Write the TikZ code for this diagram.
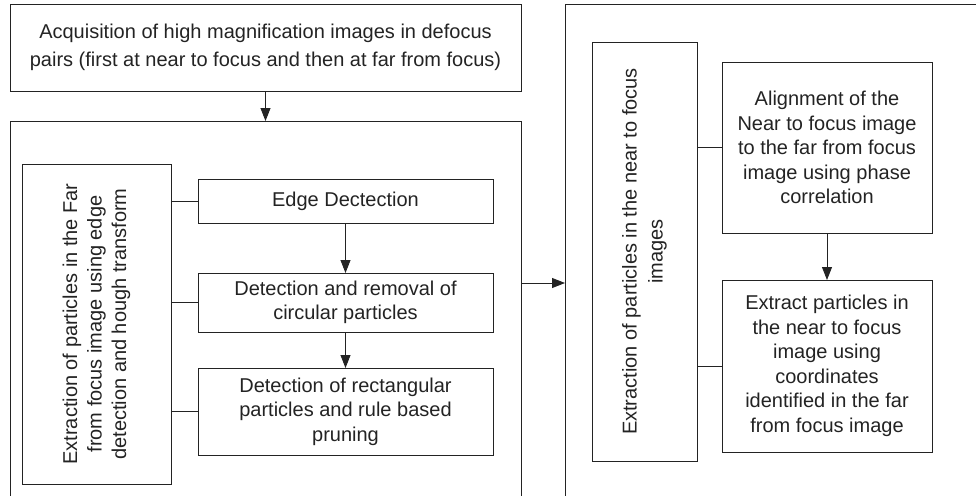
\documentclass[tikz,border=0pt]{standalone}
\usepackage{fontspec}
\setmainfont{Liberation Sans}
\usepackage{tikz}
\usetikzlibrary{arrows.meta}
\definecolor{inkgray}{RGB}{35,35,35}

\begin{document}
\begin{tikzpicture}[x=1pt, y=-1pt,
          stepbox/.style={draw=inkgray, line width=0.9pt, align=center,
                          inner sep=0pt, outer sep=0pt, text=inkgray,
                          font=\fontsize{20}{24.5}\selectfont},
          frame/.style={draw=inkgray, line width=0.9pt, inner sep=0pt, outer sep=0pt},
          link/.style={draw=inkgray, line width=0.9pt},
          arr/.style={link, -{Triangle[length=13pt, width=10pt]}}]
          \useasboundingbox (0,0) rectangle (976,495);
          \clip (0,0) rectangle (976,495);
          % outer frames
          \node[stepbox, minimum width=511, minimum height=87,
                font=\fontsize{20}{28}\selectfont] (acq) at (265.5,47.5)
                {Acquisition of high magnification images in defocus\\
                 pairs (first at near to focus and then at far from focus)};
          \node[frame, minimum width=511, minimum height=389] (far) at (265.5,315.5) {};
          \node[frame, minimum width=425, minimum height=506] (near) at (777.5,257) {};
          % far from focus steps
          \node[stepbox, rotate=90, minimum width=320, minimum height=149] (farx) at (96.5,324)
                {Extraction of particles in the Far\\ from focus image using edge\\
                 detection and hough transform};
          \node[stepbox, minimum width=295, minimum height=44] (edge) at (345.5,201) {Edge Dectection};
          \node[stepbox, minimum width=295, minimum height=59] (circ) at (345.5,302.5)
                {Detection and removal of\\ circular particles};
          \node[stepbox, minimum width=295, minimum height=87] (rect) at (345.5,411.5)
                {Detection of rectangular\\ particles and rule based\\ pruning};
          % near to focus steps
          \node[stepbox, rotate=90, minimum width=419, minimum height=105,
                font=\fontsize{20}{26}\selectfont] (nearx) at (644.5,251.5)
                {Extraction of particles in the near to focus\\ images};
          \node[stepbox, minimum width=210, minimum height=171] (align) at (827,147.5)
                {Alignment of the\\ Near to focus image\\ to the far from focus\\
                 image using phase\\ correlation};
          \node[stepbox, minimum width=210, minimum height=172] (extr) at (827,366)
                {Extract particles in\\ the near to focus\\ image using\\ coordinates\\
                 identified in the far\\ from focus image};
          \coordinate (hand) at (521,283);
          \draw[arr] (acq) -- (far);
          \draw[arr] (edge) -- (circ);
          \draw[arr] (circ) -- (rect);
          \draw[arr] (align) -- (extr);
          \draw[arr] (hand) -- (hand -| near.west);
          \foreach \s in {edge,circ,rect} \draw[link] (farx.south |- \s.west) -- (\s.west);
          \foreach \s in {align,extr} \draw[link] (nearx.south |- \s.west) -- (\s.west);
        \end{tikzpicture}
\end{document}
